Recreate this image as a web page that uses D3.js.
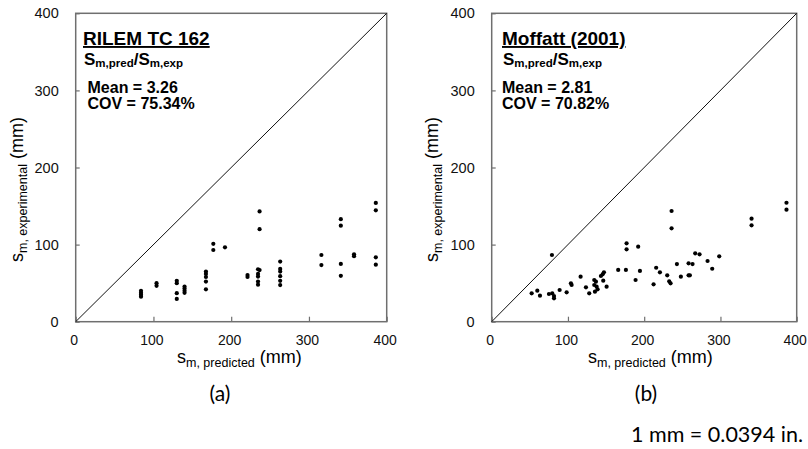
<!DOCTYPE html>
<html><head><meta charset="utf-8">
<script src="https://cdn.jsdelivr.net/npm/d3@7"></script>
<style>
html,body{margin:0;padding:0;background:#fff;}
svg{display:block;}
</style>
</head><body>
<svg id="c" width="808" height="449"></svg>
<script>
// ---- data ----
const axisTicks = [0, 100, 200, 300, 400];
const diagonal = [0, 400];

// (a) RILEM TC 162
const rilemPred = [84,84,84,84, 104,104, 130,130,130,130, 140,140,140,140,
  167.5,167.5,167.5,167.5,167.5, 177,177, 192, 221,221,
  234.5,234.5,234.5,234.5,234.5, 236.5,236.5,236.5,
  263,263,263,263,263,263, 316,316, 341,341,341,341, 358,358, 386,386,386,386];
const rilemExp = [40,37.5,35,32.5, 50,46.5, 53,50,37,29.5, 45.5,43,40,37.5,
  65,62,58,52,42, 101,93, 96.5, 60.5,58,
  68,62,58.5,52,48, 143,120,67,
  78,68.5,65,59,53,47.5, 86.5,73.5, 133,124.5,75,59.5, 87.5,85, 154,144.5,83.5,74];

// (b) Moffatt (2001)
const moffattPred = [52.4,59.8,63.3,75.1,79,79.4,81.7,81.7,89.1,98.3,103.9,104.8,116.6,123.6,127.9,
  134.5,136.7,134.5,137.6,135.4,138.9,143.2,145.5,147.2,146.3,150.7,165.9,176,176.9,176.9,
  188.7,192.1,194.4,212.3,215.7,220.6,230.2,232.8,234.6,235.9,235.9,242.9,248.1,258.2,258.2,
  259.9,263.4,266.9,272.6,283.1,289.2,298.4,340.8,340.8,386.6,386.6];
const moffattExp = [36.8,40.2,33.7,35.9,86.5,36.8,33.3,30.3,41.1,38.1,49.8,47.6,58.4,44.6,36.8,
  54.1,51.9,47.6,45.4,38.9,42,59.3,61.5,64.1,53.2,45.4,67.1,67.1,101.7,93.9,
  54.1,97.3,65.8,48.5,70,64,60.2,52.4,49.8,143.6,121.1,74.8,58.4,75.7,60.2,
  60.2,74.8,88.7,87.4,78.7,68.7,84.8,133.6,125,154.3,145.3];

const panels = [
  {title: "RILEM TC 162", mean: "Mean = 3.26", cov: "COV = 75.34%", tag: "(a)",
   pred: rilemPred, exp: rilemExp,
   x0: 75.7, x1: 386.7, titleX: 83, statX: 87.5, ylabX: 23, xlabX: 177, tagX: 220},
  {title: "Moffatt (2001)", mean: "Mean = 2.81", cov: "COV = 70.82%", tag: "(b)",
   pred: moffattPred, exp: moffattExp,
   x0: 491.7, x1: 796.7, titleX: 502, statX: 502, ylabX: 438, xlabX: 588, tagX: 646}
];

const svg = d3.select("#c");
const AX = "Liberation Sans, Arial, Helvetica, sans-serif";
const CAL = "Lato, 'Open Sans', sans-serif";
const frameColor = "#6f6f6f";

const y = d3.scaleLinear().domain([0, 400]).range([321.7, 13.3]);

panels.forEach(p => {
  const x = d3.scaleLinear().domain([0, 400]).range([p.x0, p.x1]);
  const g = svg.append("g");

  // x axis
  const xa = g.append("g").attr("transform", `translate(0,${y(0)})`)
    .call(d3.axisBottom(x).tickValues(axisTicks).tickSizeInner(-5).tickSizeOuter(0).tickPadding(13));
  xa.select(".domain").remove();
  xa.selectAll(".tick line").attr("stroke", frameColor).attr("stroke-width", 1.2);
  xa.selectAll(".tick text").attr("font-family", AX).attr("font-size", 14).attr("fill", "#111").attr("dx", -2);

  // y axis
  const ya = g.append("g").attr("transform", `translate(${x(0)},0)`)
    .call(d3.axisLeft(y).tickValues(axisTicks).tickSizeInner(-4).tickSizeOuter(0).tickPadding(17));
  ya.select(".domain").remove();
  ya.selectAll(".tick line").attr("stroke", frameColor).attr("stroke-width", 1.2);
  ya.selectAll(".tick text").attr("font-family", AX).attr("font-size", 14.5).attr("fill", "#111");

  // frame
  g.append("rect").attr("x", x(0)).attr("y", y(400))
    .attr("width", x(400) - x(0)).attr("height", y(0) - y(400))
    .attr("fill", "none").attr("stroke", frameColor).attr("stroke-width", 1.5);

  // 1:1 line
  g.append("path").datum(diagonal)
    .attr("d", d3.line().x(d => x(d)).y(d => y(d)))
    .attr("stroke", "#111").attr("stroke-width", 1).attr("fill", "none");

  // points
  g.append("g").selectAll("circle").data(p.pred.map((v, i) => [v, p.exp[i]])).join("circle")
    .attr("cx", d => x(d[0])).attr("cy", d => y(d[1])).attr("r", 2.1).attr("fill", "#000");

  // annotations
  g.append("text").attr("x", p.titleX).attr("y", 45)
    .attr("font-family", AX).attr("font-weight", "bold").attr("font-size", 19).attr("fill", "#000")
    .attr("text-decoration", "underline").text(p.title);

  const r = g.append("text").attr("x", p.titleX + 1).attr("y", 65)
    .attr("font-family", AX).attr("font-weight", "bold").attr("font-size", 17).attr("fill", "#000");
  r.append("tspan").text("S");
  r.append("tspan").attr("font-size", 11.5).attr("dy", 2).text("m,pred");
  r.append("tspan").attr("dy", -2).text("/S");
  r.append("tspan").attr("font-size", 11.5).attr("dy", 2).text("m,exp");

  g.append("text").attr("x", p.statX).attr("y", 93.3)
    .attr("font-family", AX).attr("font-weight", "bold").attr("font-size", 16).attr("fill", "#000").text(p.mean);
  g.append("text").attr("x", p.statX).attr("y", 109.3)
    .attr("font-family", AX).attr("font-weight", "bold").attr("font-size", 16).attr("fill", "#000").text(p.cov);

  // x label
  const xl = g.append("text").attr("x", p.xlabX).attr("y", 363)
    .attr("font-family", AX).attr("font-size", 18).attr("fill", "#000");
  xl.append("tspan").text("s");
  xl.append("tspan").attr("font-size", 12.5).attr("dy", 3.5).text("m, predicted");
  xl.append("tspan").attr("dy", -3.5).text(" (mm)");

  // y label
  const yl = g.append("text").attr("transform", `translate(${p.ylabX},262) rotate(-90)`)
    .attr("font-family", AX).attr("font-size", 18).attr("fill", "#000");
  yl.append("tspan").text("s");
  yl.append("tspan").attr("font-size", 12.5).attr("dy", 3.5).text("m, experimental");
  yl.append("tspan").attr("dy", -3.5).text(" (mm)");

  // panel tag
  g.append("text").attr("x", p.tagX).attr("y", 401).attr("text-anchor", "middle")
    .attr("font-family", CAL).attr("font-size", 21).attr("fill", "#000").text(p.tag);
});

svg.append("text").attr("x", 803).attr("y", 441.5).attr("text-anchor", "end")
  .attr("font-family", CAL).attr("font-size", 21.5).attr("fill", "#000").text("1 mm = 0.0394 in.");
</script>
</body></html>
